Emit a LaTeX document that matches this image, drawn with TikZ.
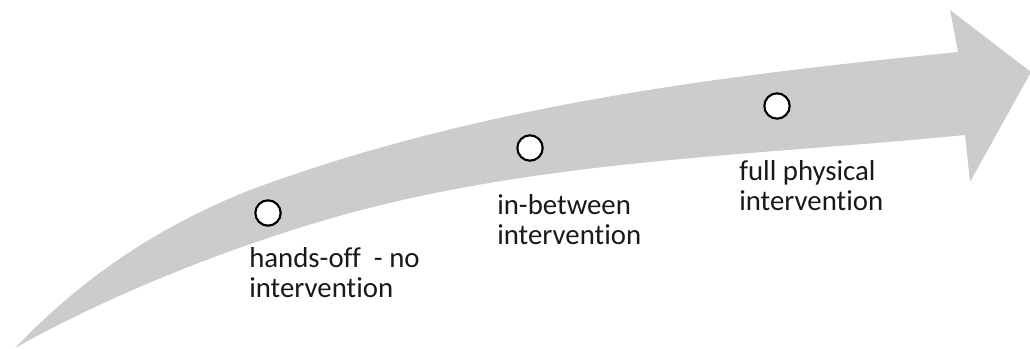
\documentclass[tikz,border=0pt]{standalone}
\usepackage{fontspec}
\setmainfont{Carlito}[Ligatures={NoCommon,NoContextual}]
\usetikzlibrary{positioning}
\definecolor{band}{HTML}{CCCCCC}

\begin{document}
\begin{tikzpicture}[
    x=0.75pt, y=-0.75pt,
    stage/.style={circle, draw=black, fill=white, line width=1.6pt, minimum size=19pt, inner sep=0pt},
    caption/.style={anchor=base west, align=left, inner sep=0pt, text=black!90, font=\fontsize{21.6}{22.5}\selectfont},
]
    \useasboundingbox (0,0) rectangle (1030,349);
    % Curved arrow: upper edge, head, lower edge back to the tail
    \fill[band] (15,348) .. controls (85,275) and (160,226) .. (250,190)
        .. controls (480,105) and (718,76) .. (958,52)
        -- (950,10) -- (1031,72) -- (970,182) -- (965,135)
        .. controls (765,155) and (550,159) .. (350,213)
        .. controls (240,243) and (115,292) .. cycle;
    % Stages
    \node[stage] (handsoff) at (268,213) {};
    \node[stage] (between) at (530,148) {};
    \node[stage] (physical) at (777,106) {};
    % Labels (anchored on the last line)
    \node[caption] (handsofflabel) at (249,297) {hands-off\ \ - no\\intervention};
    \node[caption] (betweenlabel) at (497,244) {in-between\\intervention};
    \node[caption] (physicallabel) at (739,210) {full physical\\intervention};
\end{tikzpicture}
\end{document}
